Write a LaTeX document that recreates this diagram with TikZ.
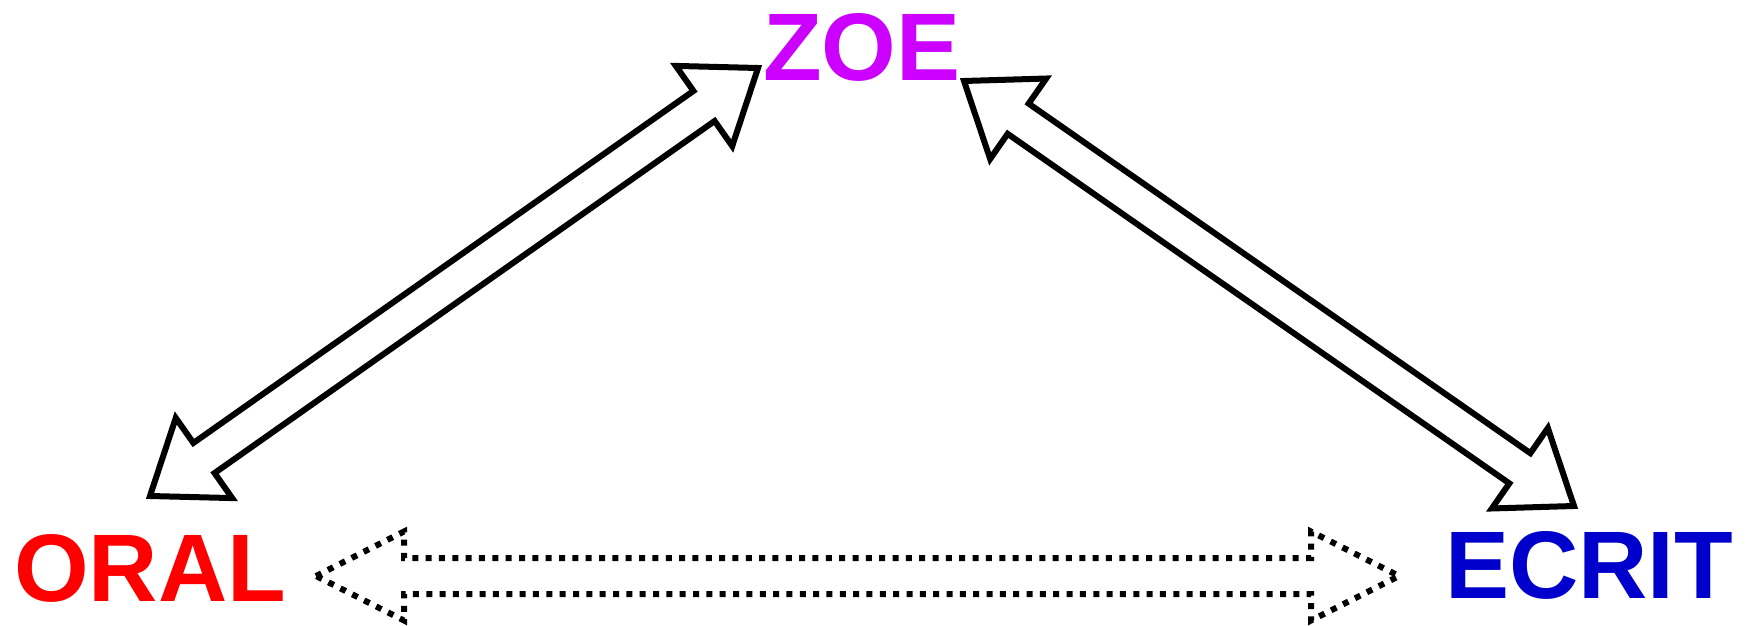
\documentclass[tikz,border=0pt]{standalone}
\usepackage{fontspec}
\setmainfont{Liberation Sans}
\usetikzlibrary{calc}
\definecolor{oralred}{RGB}{255,0,0}
\definecolor{ecritblue}{RGB}{0,0,204}
\definecolor{zoeviolet}{RGB}{204,0,255}
% #1 style, #2 and #3 tips, #4 head length, #5 head half width, #6 shaft half width
\newcommand{\blockarrow}[6]{%
  \coordinate (ha) at ($(#2)!#4!(#3)$);
  \coordinate (hb) at ($(#3)!#4!(#2)$);
  \draw[#1] (#2) -- ($(ha)!#5!90:(#3)$) -- ($(ha)!#6!90:(#3)$)
    -- ($(hb)!#6!-90:(#2)$) -- ($(hb)!#5!-90:(#2)$) -- (#3)
    -- ($(hb)!#5!90:(#2)$) -- ($(hb)!#6!90:(#2)$)
    -- ($(ha)!#6!-90:(#3)$) -- ($(ha)!#5!-90:(#3)$) -- cycle;}

\begin{document}
\begin{tikzpicture}[x=0.5pt,y=-0.5pt,
  every node/.style = {inner sep=0pt, anchor=base,
    font=\fontsize{48}{48}\selectfont\bfseries},
  outline/.style = {draw, line width=3pt, line join=miter},
  dotline/.style = {outline, dash pattern=on 3pt off 3.67pt}]
  \useasboundingbox (0,0) rectangle (1746,626);

  \node[text=zoeviolet] (zoe) at (862,81) {ZOE};
  \node[text=oralred] (oral) at (150,601) {ORAL};
  \node[text=ecritblue] (ecrit) at (1589,598) {ECRIT};

  \coordinate (zoe-l) at (758,68);
  \coordinate (oral-t) at (150,496);
  \coordinate (zoe-r) at (964,81);
  \coordinate (ecrit-t) at (1574,506);
  \coordinate (oral-r) at (316,576);
  \coordinate (ecrit-l) at (1399,576);

  \blockarrow{outline}{oral-t}{zoe-l}{33pt}{24.5pt}{9.2pt}
  \blockarrow{outline}{zoe-r}{ecrit-t}{33pt}{24.5pt}{9.2pt}
  \blockarrow{dotline}{oral-r}{ecrit-l}{44pt}{22.25pt}{9pt}
\end{tikzpicture}
\end{document}
